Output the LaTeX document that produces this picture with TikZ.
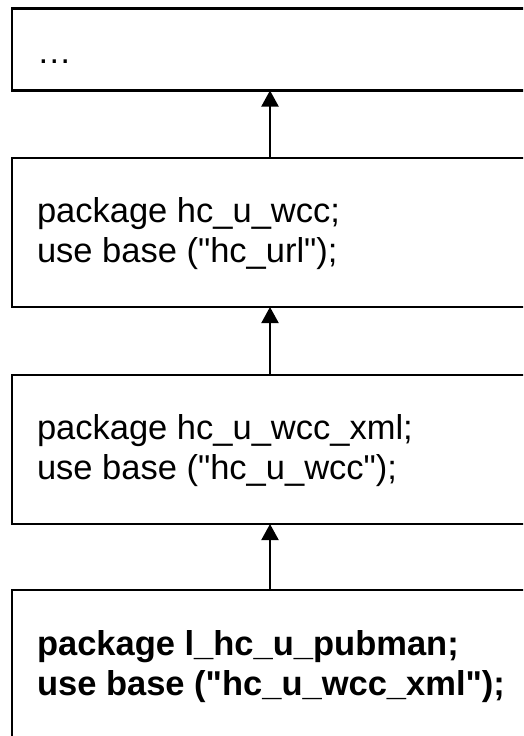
\documentclass[tikz,border=0pt]{standalone}
\usepackage{fontspec}
\setmainfont{Liberation Sans}
\usetikzlibrary{arrows.meta}
\newcommand{\dq}{\textquotedbl}
\tikzset{
  box/.style={draw=black, line width=2.5pt, fill=none, anchor=north west,
    minimum width=516pt, inner sep=0pt, outer sep=0pt},
  code/.style={anchor=base west, inner sep=0pt, outer sep=0pt,
    font=\fontsize{34.5}{40}\selectfont},
  codebold/.style={code, font=\fontsize{34.5}{40}\selectfont\bfseries},
  inherit/.style={draw=black, line width=2pt,
    -{Triangle[length=16pt, width=17pt]}}
}
\begin{document}
\begin{tikzpicture}[x=1pt, y=-1pt]
  \useasboundingbox (0,0) rectangle (523,736);
  \clip (0,0) rectangle (523,736);
  \fill[white] (0,0) rectangle (523,736);
  % boxes
  \node[box, minimum height=82pt]  (b1) at (12,8.5) {};
  \node[box, minimum height=149pt] (b2) at (12,158) {};
  \node[box, minimum height=149pt] (b3) at (12,375) {};
  \node[box, minimum height=170pt] (b4) at (12,590) {};
  % texts
  \node[code] (t1) at (37,63) {\ldots};
  \node[code] (t2a) at (37,222) {package hc\_u\_wcc;};
  \node[code] (t2b) at (37,262) {use base (\dq hc\_url\dq);};
  \node[code] (t3a) at (37,439) {package hc\_u\_wcc\_xml;};
  \node[code] (t3b) at (37,479) {use base (\dq hc\_u\_wcc\dq);};
  \node[codebold] (t4a) at (37,655) {package l\_hc\_u\_pubman;};
  \node[codebold] (t4b) at (37,695) {use base (\dq hc\_u\_wcc\_xml\dq);};
  % connectors
  \draw[inherit] (b2.north) -- (b1.south);
  \draw[inherit] (b3.north) -- (b2.south);
  \draw[inherit] (b4.north) -- (b3.south);
\end{tikzpicture}
\end{document}
